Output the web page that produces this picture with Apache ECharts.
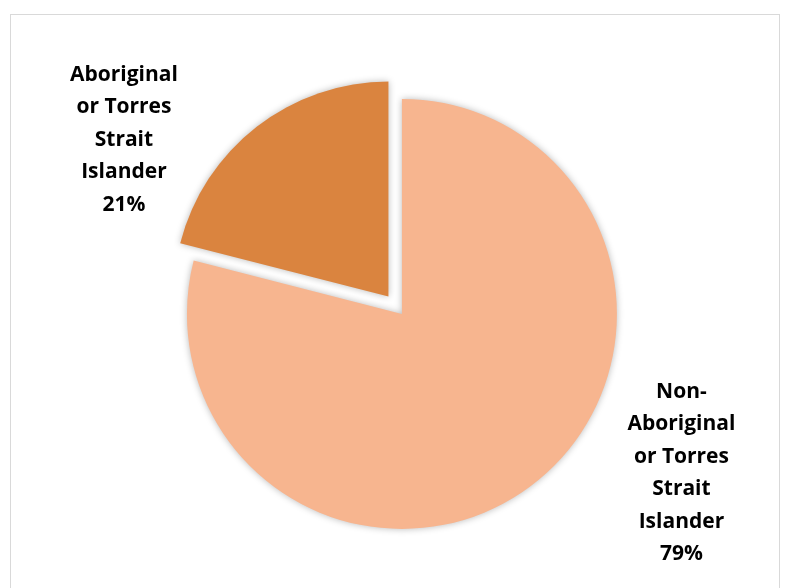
<!DOCTYPE html>
<html>
<head>
<meta charset="utf-8">
<script src="https://cdn.jsdelivr.net/npm/echarts@6/dist/echarts.min.js"></script>
<style>
  html, body { margin: 0; padding: 0; background: #fff; }
  #frame {
    position: absolute; left: 10px; top: 14px; width: 770px; height: 600px;
    border: 1.5px solid #d9d9d9; box-sizing: border-box;
  }
  #chart { position: absolute; left: 0; top: 0; width: 785px; height: 588px; }
</style>
</head>
<body>
<div id="frame"></div>
<div id="chart"></div>
<script>
// Share of population by Indigenous status
const categories = ['Non-Aboriginal or Torres Strait Islander', 'Aboriginal or Torres Strait Islander'];
const labelTexts = ['Non-\nAboriginal\nor Torres\nStrait\nIslander', 'Aboriginal\nor Torres\nStrait\nIslander'];
const percentValues = [79, 21];
const sliceColors = ['#F7B58F', '#DA843F'];
const explodedSlice = [false, true];
// label centre relative to the pie centre, in units of the pie radius
const labelAnchor = [[1.30, 0.74], [-1.293, -0.81]];

const chart = echarts.init(document.getElementById('chart'), null, { renderer: 'canvas' });

const pieCenter = ['51.2%', '53.4%'];
const pieRadius = 215;

// the coloured slices
const sliceData = categories.map((name, i) => ({
  name: name,
  value: percentValues[i],
  selected: explodedSlice[i],
  itemStyle: { color: sliceColors[i] }
}));

// an invisible copy of the pie that carries the category labels
const labelData = categories.map((name, i) => ({
  name: name,
  value: percentValues[i],
  label: { formatter: labelTexts[i] + '\n' + percentValues[i] + '%' }
}));

chart.setOption({
  animation: false,
  series: [{
    type: 'pie',
    center: pieCenter,
    radius: pieRadius,
    startAngle: 90,
    clockwise: true,
    selectedMode: 'single',
    selectedOffset: 22,
    silent: true,
    emphasis: { disabled: true },
    itemStyle: {
      shadowBlur: 7,
      shadowColor: 'rgba(0,0,0,0.28)'
    },
    label: { show: false },
    labelLine: { show: false },
    data: sliceData
  }, {
    type: 'pie',
    center: pieCenter,
    radius: pieRadius,
    startAngle: 90,
    clockwise: true,
    selectedMode: false,
    silent: true,
    emphasis: { disabled: true },
    itemStyle: { color: 'transparent' },
    label: {
      show: true,
      position: 'outside',
      color: '#000',
      fontFamily: 'Open Sans',
      fontWeight: 'bold',
      fontSize: 21,
      lineHeight: 32.5,
      align: 'center'
    },
    labelLine: { show: false },
    // place each label beside its slice, from the pie's computed centre and radius
    labelLayout: function (p) {
      const lay = chart.getModel().getSeriesByIndex(1).getData().getItemLayout(p.dataIndex);
      const a = labelAnchor[p.dataIndex];
      return {
        x: lay.cx + a[0] * lay.r,
        y: lay.cy + a[1] * lay.r,
        align: 'center',
        verticalAlign: 'middle'
      };
    },
    data: labelData
  }]
});
</script>
</body>
</html>
